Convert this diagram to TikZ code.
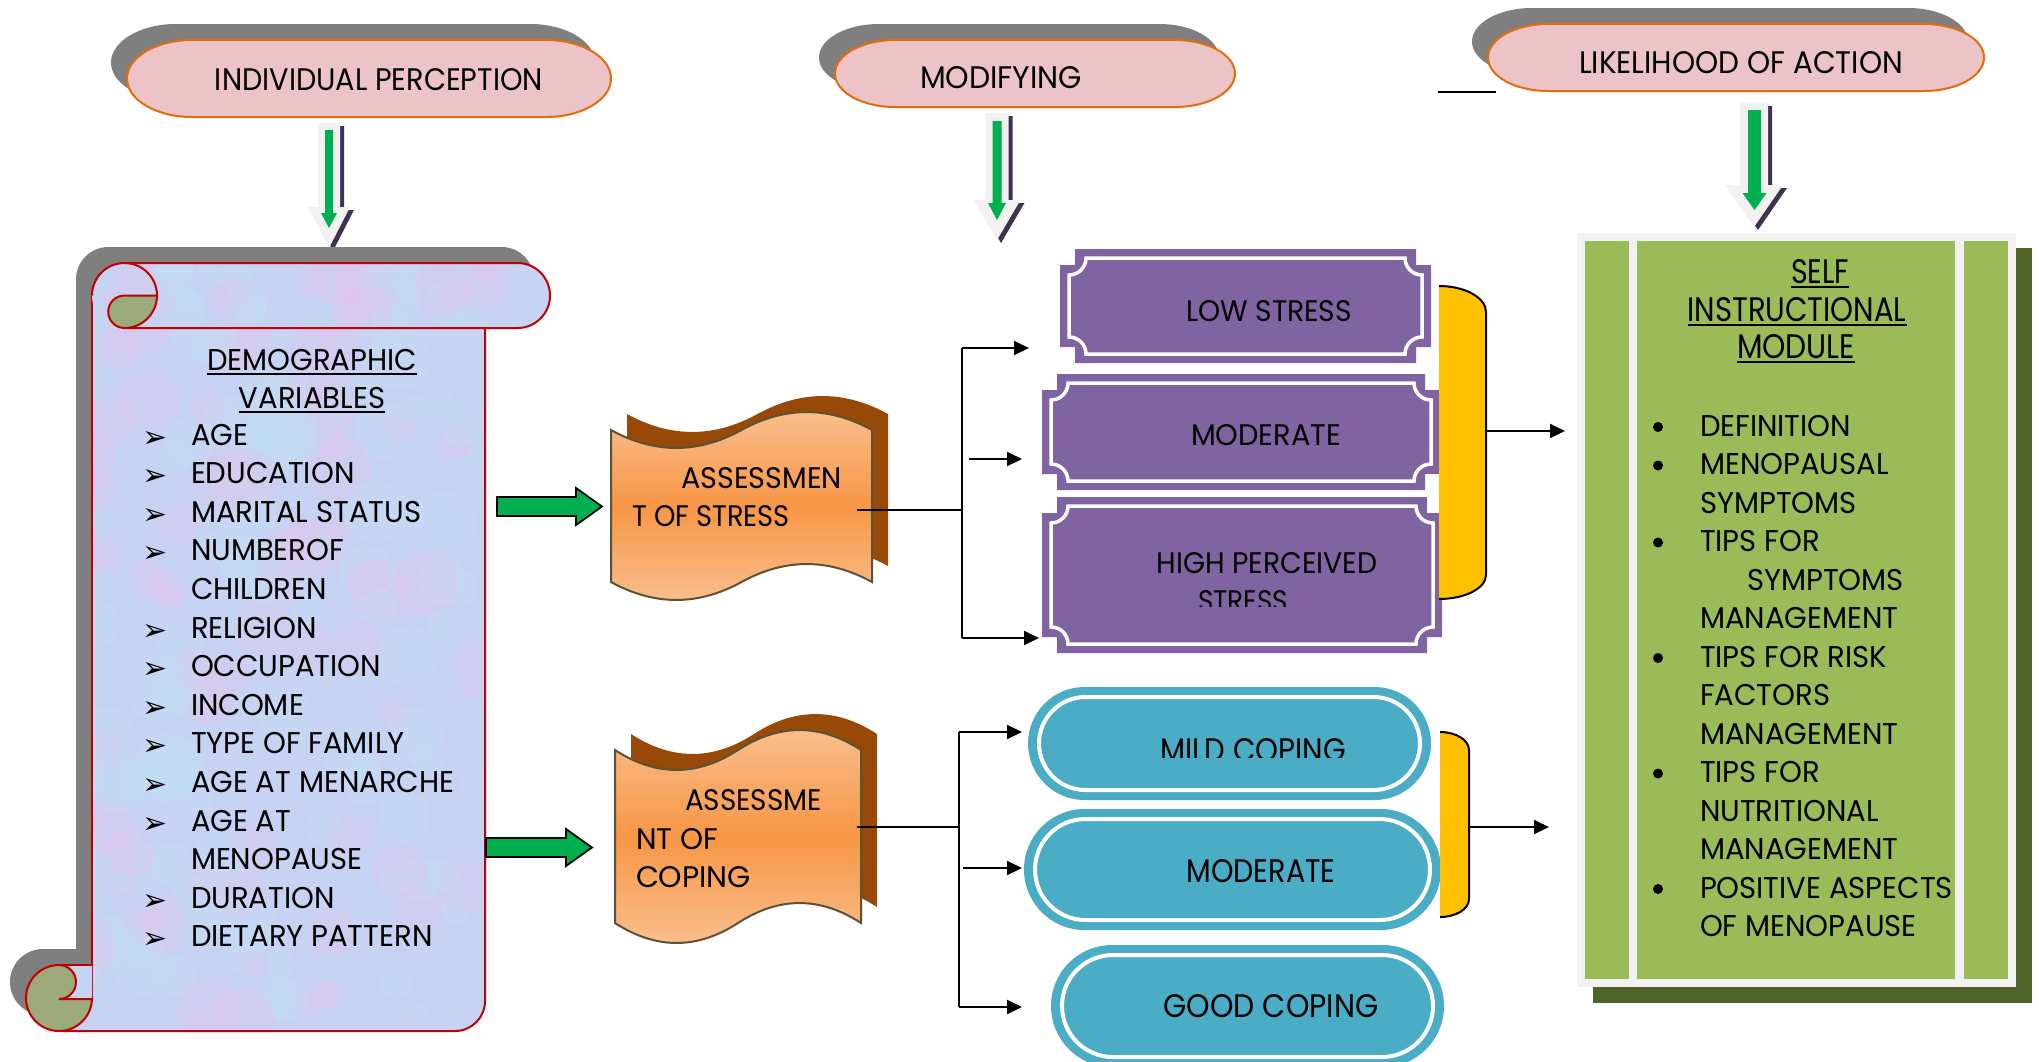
\documentclass[tikz,border=0pt]{standalone}
\usepackage{fontspec}
\usepackage{graphicx}
\setmainfont{Poppins}
\newfontfamily\gothic[FakeStretch=0.97]{Poppins}
\newfontfamily\twc{Poppins}
\newfontfamily\dejavu{DejaVu Sans}
\usetikzlibrary{arrows.meta}
\definecolor{pinkfill}{HTML}{ECC4C7}
\definecolor{pinkline}{HTML}{E46C0A}
\definecolor{shgray}{HTML}{7F7F7F}
\definecolor{purp}{HTML}{8064A2}
\definecolor{bluec}{HTML}{4BACC6}
\definecolor{yell}{HTML}{FFC000}
\definecolor{orL}{HTML}{FAC090}
\definecolor{orM}{HTML}{F79646}
\definecolor{brownc}{HTML}{984807}
\definecolor{tapeline}{HTML}{5C5337}
\definecolor{modgreen}{HTML}{9BBB59}
\definecolor{dkgreen}{HTML}{4F6228}
\definecolor{ltgray}{HTML}{F2F2F2}
\definecolor{agreen}{HTML}{00B050}
\definecolor{ashadow}{HTML}{3F3151}
\definecolor{scrollc}{HTML}{C7D3F2}
\definecolor{blobpink}{HTML}{E6C4EC}
\definecolor{blobcyan}{HTML}{BEE6F6}
\definecolor{redc}{HTML}{C00000}
\definecolor{olivec}{HTML}{9DAA7B}
\newcommand\fbd{\gothic\fontsize{30}{30}\selectfont}
\newcommand\fbul{\dejavu\fontsize{30}{30}\selectfont}
% fitted condensed text: width, cap height, text
\newcommand\fitt[3]{\resizebox{#1pt}{#2pt}{\twc\fontsize{30}{30}\selectfont #3}}
% pill with elliptic ends: options, x0, y0, x1, y1, rx
\newcommand\pillp[6]{\path[#1] ({#2+#6},#3) -- ({#4-#6},#3) arc[start angle=-90,end angle=90,x radius=#6,y radius={(#5-#3)/2}] -- ({#2+#6},#5) arc[start angle=90,end angle=270,x radius=#6,y radius={(#5-#3)/2}] -- cycle;}
% punched tape: options, x0, y0, w, h, a
\newcommand\tape[6]{\path[#1] (#2,#3) .. controls ({#2+#4/6},{#3+1.33*#6}) and ({#2+#4/3},{#3+1.33*#6}) .. ({#2+#4/2},#3) .. controls ({#2+2*#4/3},{#3-1.33*#6}) and ({#2+5*#4/6},{#3-1.33*#6}) .. ({#2+#4},#3) -- ({#2+#4},{#3+#5}) .. controls ({#2+5*#4/6},{#3+#5-1.33*#6}) and ({#2+2*#4/3},{#3+#5-1.33*#6}) .. ({#2+#4/2},{#3+#5}) .. controls ({#2+#4/3},{#3+#5+1.33*#6}) and ({#2+#4/6},{#3+#5+1.33*#6}) .. (#2,{#3+#5}) -- cycle;}
% plaque: x0 y0 x1 y1
\newcommand\plaque[4]{\fill[purp] ({#1+15},#2) -- ({#3-15},#2) -- ({#3-15},{#2+16}) -- (#3,{#2+16}) -- (#3,{#4-16}) -- ({#3-15},{#4-16}) -- ({#3-15},#4) -- ({#1+15},#4) -- ({#1+15},{#4-16}) -- (#1,{#4-16}) -- (#1,{#2+16}) -- ({#1+15},{#2+16}) -- cycle;
\draw[white,line width=3.5pt] ({#1+26},{#2+9}) -- ({#3-26},{#2+9}) arc[start angle=180,end angle=90,radius=17] -- ({#3-9},{#4-26}) arc[start angle=270,end angle=180,radius=17] -- ({#1+26},{#4-9}) arc[start angle=0,end angle=-90,radius=17] -- ({#1+9},{#2+26}) arc[start angle=90,end angle=0,radius=17] -- cycle;}
% arrow shape: color, c, hw, top, head, HW, tip
\newcommand\arrowfill[7]{\fill[#1] ({#2-#3},#4) -- ({#2+#3},#4) -- ({#2+#3},#5) -- ({#2+#6},#5) -- (#2,#7) -- ({#2-#6},#5) -- ({#2-#3},#5) -- cycle;}
\newcommand\tdarrow[6]{\begin{scope}[shift={(4,3)}]\arrowfill{ashadow}{#1}{#2}{#3}{#4}{#5}{#6}\end{scope}\arrowfill{ltgray}{#1}{#2}{#3}{#4}{#5}{#6}}
\newcommand\scrollbodypath{(92,300) -- (485,300) -- (485,1001) arc[start angle=0,end angle=90,radius=30] -- (59,1031) -- (59,965) -- (92,965) -- cycle}
\newcommand\rollpath{(124.5,263) -- (517.5,263) arc[start angle=-90,end angle=90,radius=32.5] -- (124.5,328) arc[start angle=90,end angle=270,radius=32.5] -- cycle}
\begin{document}
\begin{tikzpicture}[x=1pt,y=-1pt,
  txt/.style={inner sep=0pt,outer sep=0pt},
  plain/.style={line width=2pt},
  link/.style={line width=2pt,-{Triangle[length=15pt,width=14pt]}},
  rline/.style={draw=redc,line width=2pt}]
\useasboundingbox (0,0) rectangle (2039,1061);
\fill[white] (0,0) rectangle (2039,1061);

% ---------- top pills ----------
\draw[line width=2pt] (1438,92) -- (1496,92);
\begin{scope}[shift={(-16,-16)}]
\pillp{fill=shgray}{127}{40}{611}{117}{65}
\pillp{fill=shgray}{835}{40}{1235}{107}{60}
\pillp{fill=shgray}{1488}{24}{1984}{91}{60}
\end{scope}
\pillp{fill=pinkfill,draw=pinkline,line width=2pt}{127}{40}{611}{117}{65}
\pillp{fill=pinkfill,draw=pinkline,line width=2pt}{835}{40}{1235}{107}{60}
\pillp{fill=pinkfill,draw=pinkline,line width=2pt}{1488}{24}{1984}{91}{60}
\node[txt,anchor=base] (ip) at (379,90) {\fitt{328}{22}{INDIVIDUAL PERCEPTION}};
\node[txt,anchor=base] (mod) at (1001,88) {\fitt{162}{22}{MODIFYING}};
\node[txt,anchor=base] (lik) at (1741,73) {\fitt{324}{22}{LIKELIHOOD OF ACTION}};

% ---------- down arrows ----------
\tdarrow{329}{11}{123}{207}{21}{248}
\arrowfill{agreen}{329}{4}{130}{213}{8}{228}
\tdarrow{997}{11.5}{113}{200}{23.5}{240}
\arrowfill{agreen}{997}{4.5}{121}{203}{9}{220}
\tdarrow{1754}{14}{103}{185}{29}{227}
\arrowfill{agreen}{1754.5}{6.5}{110}{193}{12}{210}

% ---------- scroll ----------
\begin{scope}[shift={(-16,-16)}]
\fill[shgray] \rollpath;
\fill[shgray] \scrollbodypath;
\fill[shgray] (59,998) circle[radius=33];
\end{scope}
\fill[scrollc] \scrollbodypath;
\begin{scope}
\clip \scrollbodypath;
\pgfmathsetseed{7}
\foreach \k in {1,...,160}{
  \pgfmathsetmacro\bx{60+430*rnd}
  \pgfmathsetmacro\by{300+730*rnd}
  \pgfmathsetmacro\br{12+22*rnd}
  \pgfmathsetmacro\bc{rnd}
  \ifdim\bc pt<0.45pt
    \fill[blobpink,opacity=0.3] (\bx,\by) circle[radius=\br];
  \else
    \fill[blobcyan,opacity=0.22] (\bx,\by) circle[radius=\br];
  \fi
}
\end{scope}
\draw[rline] (92,295.5) -- (92,999);
\draw[rline] (485,328) -- (485,1001) arc[start angle=0,end angle=90,radius=30] -- (59,1031);
\fill[scrollc] \rollpath;
\begin{scope}
\clip \rollpath;
\pgfmathsetseed{11}
\foreach \k in {1,...,30}{
  \pgfmathsetmacro\bx{100+440*rnd}
  \pgfmathsetmacro\by{265+60*rnd}
  \pgfmathsetmacro\br{12+18*rnd}
  \pgfmathsetmacro\bc{rnd}
  \ifdim\bc pt<0.45pt
    \fill[blobpink,opacity=0.3] (\bx,\by) circle[radius=\br];
  \else
    \fill[blobcyan,opacity=0.22] (\bx,\by) circle[radius=\br];
  \fi
}
\end{scope}
\draw[rline] (92,295.5) arc[start angle=180,end angle=270,radius=32.5] -- (517.5,263) arc[start angle=-90,end angle=90,radius=32.5] -- (124.5,328);
\draw[rline] (124.5,263) arc[start angle=270,end angle=360,radius=32.5];
\path[fill=olivec,rline] (157,295.5) -- (124.5,295.5) arc[start angle=270,end angle=90,radius=16.25] arc[start angle=90,end angle=0,radius=32.5] -- cycle;
% bottom curl
\fill[olivec] (59,998) circle[radius=33];
\fill[scrollc] (59,965) -- (92,965) -- (92,999) -- (59,999) arc[start angle=90,end angle=-90,radius=17] -- cycle;
\draw[rline] (59,965) arc[start angle=270,end angle=0,radius=33];
\draw[rline] (59,965) -- (92,965);
\draw[rline] (92,999) -- (59,999) arc[start angle=90,end angle=-90,radius=17];

\node[txt,anchor=base,font=\fbd] (demo1) at (312,370) {DEMOGRAPHIC};
\node[txt,anchor=base,font=\fbd] (demo2) at (312,408) {VARIABLES};
\draw[line width=1.5pt] ([yshift=-4pt]demo1.base west) -- ([yshift=-4pt]demo1.base east);
\draw[line width=1.5pt] ([yshift=-4pt]demo2.base west) -- ([yshift=-4pt]demo2.base east);
\foreach \t/\b [count=\i from 0] in {AGE/1,EDUCATION/1,MARITAL STATUS/1,NUMBEROF/1,CHILDREN/0,RELIGION/1,OCCUPATION/1,INCOME/1,TYPE OF FAMILY/1,AGE AT MENARCHE/1,AGE AT/1,MENOPAUSE/0,DURATION/1,DIETARY PATTERN/1}{
  \node[txt,anchor=base west,font=\fbd] (sv\i) at (191,{445+38.6*\i}) {\t};
  \ifnum\b=1 \node[txt,anchor=base west,font=\fbul] (sb\i) at (142,{447+38.6*\i}) {➢};\fi
}

% ---------- green block arrows ----------
\draw[fill=agreen,line width=1.8pt,line join=miter] (497,497) -- (576,497) -- (576,488) -- (602,506.5) -- (576,525) -- (576,516) -- (497,516) -- cycle;
\draw[fill=agreen,line width=1.8pt,line join=miter] (486,838) -- (566,838) -- (566,829) -- (592,847.5) -- (566,866) -- (566,857) -- (486,857) -- cycle;

% ---------- assessment tapes ----------
\begin{scope}[shift={(16,-16)}]
\tape{fill=brownc}{611}{430}{261}{152}{18}
\tape{fill=brownc}{615}{750}{246}{173}{20}
\end{scope}
\tape{draw=tapeline,line width=2pt,top color=orL,bottom color=orL,middle color=orM}{611}{430}{261}{152}{18}
\tape{draw=tapeline,line width=2pt,top color=orL,bottom color=orL,middle color=orM}{615}{750}{246}{173}{20}
\node[txt,anchor=base west] (as1) at (681,488) {\fitt{161}{21}{ASSESSMEN}};
\node[txt,anchor=base west] (as2) at (632,526) {\fitt{158}{21}{T OF STRESS}};
\node[txt,anchor=base west] (ac1) at (685,810) {\fitt{137}{21}{ASSESSME}};
\node[txt,anchor=base west] (ac2) at (636,849) {\fitt{82}{21}{NT OF}};
\node[txt,anchor=base west] (ac3) at (636,887) {\fitt{115}{21}{COPING}};

% ---------- purple plaques ----------
\plaque{1060}{249}{1431}{363}
\plaque{1042}{374}{1440}{490}
\plaque{1042}{497}{1442}{653}
\node[txt,anchor=base] (low) at (1269,321) {\fitt{166}{21}{LOW STRESS}};
\node[txt,anchor=base] (modst) at (1266,445) {\fitt{150}{21}{MODERATE}};
\node[txt,anchor=base] (high) at (1267,573) {\fitt{221}{21}{HIGH PERCEIVED}};
\begin{scope}
\clip (1100,560) rectangle (1400,606);
\node[txt,anchor=base] (high2) at (1243,611) {\fitt{90}{21}{STRESS}};
\end{scope}

% ---------- blue pills ----------
\pillp{fill=bluec}{1028}{687}{1431}{800}{56.5}
\pillp{draw=white,line width=4pt}{1039}{697}{1420}{790}{46.5}
\pillp{fill=bluec}{1024}{809}{1441}{930}{60.5}
\pillp{draw=white,line width=4pt}{1035}{819}{1430}{920}{50.5}
\pillp{fill=bluec}{1051}{945}{1444}{1067}{61}
\pillp{draw=white,line width=4pt}{1062}{955}{1433}{1057}{51}
\begin{scope}
\clip (1100,700) rectangle (1420,757);
\node[txt,anchor=base] (mild) at (1253,761) {\fitt{186}{23}{MILD COPING}};
\end{scope}
\node[txt,anchor=base] (modcp) at (1261,882) {\fitt{149}{23}{MODERATE}};
\node[txt,anchor=base] (good) at (1271,1017) {\fitt{215}{23}{GOOD COPING}};

% ---------- yellow brackets ----------
\fill[yell] (1439,286) arc[start angle=-90,end angle=0,x radius=47,y radius=26] -- (1486,575) arc[start angle=0,end angle=90,x radius=47,y radius=24] -- cycle;
\draw[line width=2pt] (1439,286) arc[start angle=-90,end angle=0,x radius=47,y radius=26] -- (1486,575) arc[start angle=0,end angle=90,x radius=47,y radius=24];
\fill[yell] (1440,732) arc[start angle=-90,end angle=0,x radius=29,y radius=18] -- (1469,899) arc[start angle=0,end angle=90,x radius=29,y radius=18] -- cycle;
\draw[line width=2pt] (1440,732) arc[start angle=-90,end angle=0,x radius=29,y radius=18] -- (1469,899) arc[start angle=0,end angle=90,x radius=29,y radius=18];

% ---------- module ----------
\fill[dkgreen] (1593,248) rectangle (2032,1003);
\fill[ltgray] (1577,233) rectangle (2016,987);
\fill[modgreen] (1585,241) rectangle (1629,979);
\fill[modgreen] (1637,241) rectangle (1955,979);
\fill[modgreen] (1964,241) rectangle (2008,979);
\node[txt,anchor=base] (t1) at (1820,283) {\fitt{58}{24}{SELF}};
\node[txt,anchor=base] (t2) at (1797,321) {\fitt{219}{24}{INSTRUCTIONAL}};
\node[txt,anchor=base] (t3) at (1796,358) {\fitt{118}{24}{MODULE}};
\foreach \n in {t1,t2,t3}{\draw[line width=1.8pt] ([yshift=-4pt]\n.base west) -- ([yshift=-4pt]\n.base east);}
\foreach \t/\b/\x [count=\i from 0] in {DEFINITION/1/1700,MENOPAUSAL/1/1700,SYMPTOMS/0/1700,TIPS FOR/1/1700,SYMPTOMS/0/1747,MANAGEMENT/0/1700,TIPS FOR RISK/1/1700,FACTORS/0/1700,MANAGEMENT/0/1700,TIPS FOR/1/1700,NUTRITIONAL/0/1700,MANAGEMENT/0/1700,POSITIVE ASPECTS/1/1700,OF MENOPAUSE/0/1700}{
  \node[txt,anchor=base west,font=\fbd] (ml\i) at (\x,{436+38.5*\i}) {\t};
  \ifnum\b=1 \fill (1658,{427+38.5*\i}) circle[radius=5];\fi
}

% ---------- connectors ----------
\coordinate (sOut) at (857,510);
\coordinate (sBus) at (962,510);
\coordinate (sTop) at (962,348);
\coordinate (sBot) at (962,638);
\coordinate (sMidS) at (969,459);
\coordinate (lowIn) at (1029,348);
\coordinate (modIn) at (1022,459);
\coordinate (highIn) at (1039,638);
\draw[plain] (sOut) -- (sBus);
\draw[plain] (sTop) -- (sBot);
\draw[link] (sTop) -- (lowIn);
\draw[link] (sMidS) -- (modIn);
\draw[link] (sBot) -- (highIn);
\coordinate (cOut) at (857,827);
\coordinate (cBus) at (959,827);
\coordinate (cTop) at (959,732);
\coordinate (cBot) at (959,1007);
\coordinate (cMidS) at (963,868);
\coordinate (mildIn) at (1022,732);
\coordinate (modcIn) at (1022,868);
\coordinate (goodIn) at (1022,1007);
\draw[plain] (cOut) -- (cBus);
\draw[plain] (cTop) -- (cBot);
\draw[link] (cTop) -- (mildIn);
\draw[link] (cMidS) -- (modcIn);
\draw[link] (cBot) -- (goodIn);
\coordinate (br1) at (1486,431);
\coordinate (mod1In) at (1565,431);
\coordinate (br2) at (1469,827);
\coordinate (mod2In) at (1549,827);
\draw[link] (br1) -- (mod1In);
\draw[link] (br2) -- (mod2In);
\end{tikzpicture}
\end{document}
